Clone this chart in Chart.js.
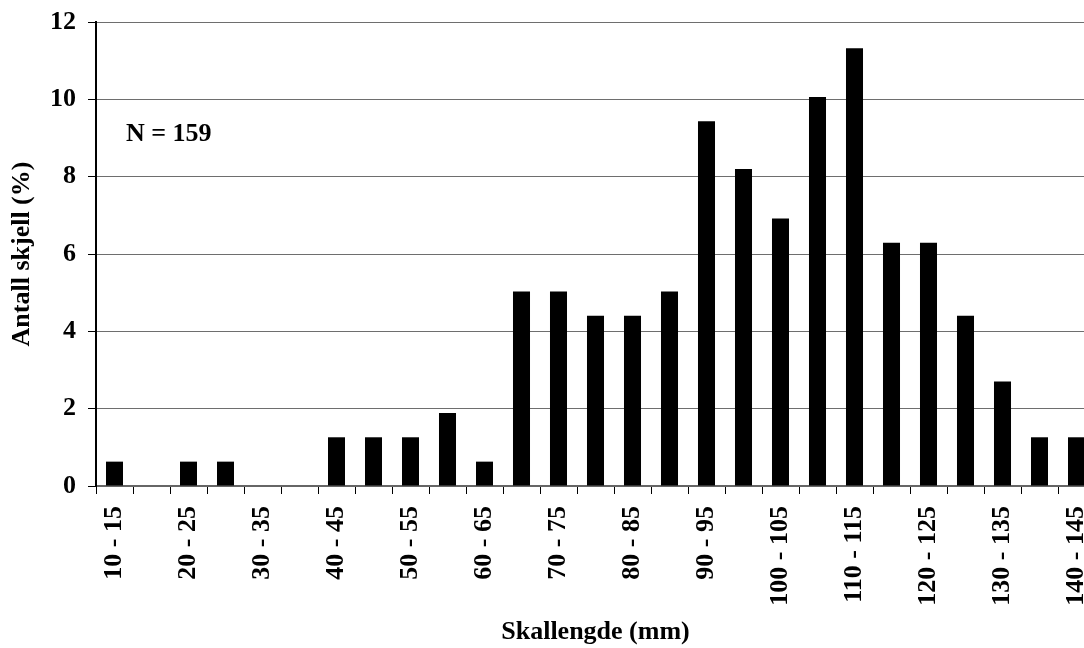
<!DOCTYPE html>
<html>
<head>
<meta charset="utf-8">
<script src="https://cdn.jsdelivr.net/npm/chart.js@4.4.1/dist/chart.umd.min.js"></script>
<style>
  html, body { margin: 0; padding: 0; background: #fff; overflow: hidden; }
  #wrap { width: 1100px; height: 648px; }
</style>
</head>
<body>
<div id="wrap"><canvas id="chart" width="1100" height="648"></canvas></div>
<script>
const categories = [
  "10 - 15", "15 - 20", "20 - 25", "25 - 30", "30 - 35", "35 - 40", "40 - 45",
  "45 - 50", "50 - 55", "55 - 60", "60 - 65", "65 - 70", "70 - 75", "75 - 80",
  "80 - 85", "85 - 90", "90 - 95", "95 - 100", "100 - 105", "105 - 110",
  "110 - 115", "115 - 120", "120 - 125", "125 - 130", "130 - 135",
  "135 - 140", "140 - 145"
];
const percentShells = [
  0.63, 0, 0.63, 0.63, 0, 0, 1.26,
  1.26, 1.26, 1.89, 0.63, 5.03, 5.03, 4.4,
  4.4, 5.03, 9.43, 8.2, 6.92, 10.06,
  11.32, 6.29, 6.29, 4.4, 2.7,
  1.26, 1.26
];
const yTicks = [0, 2, 4, 6, 8, 10, 12];
const sampleNote = "N = 159";

const serif = "'Liberation Serif', 'Times New Roman', serif";

// N = 159 text inside the plot
const notePlugin = {
  id: "note",
  afterDraw(chart) {
    const ctx = chart.ctx;
    const y = chart.scales.y;
    ctx.save();
    ctx.font = "bold 26px " + serif;
    ctx.fillStyle = "#000";
    ctx.textBaseline = "middle";
    ctx.fillText(sampleNote, chart.chartArea.left + 30, y.getPixelForValue(9.1));
    ctx.restore();
  },
};

new Chart(document.getElementById("chart").getContext("2d"), {
  type: "bar",
  data: {
    labels: categories,
    datasets: [
      {
        data: percentShells,
        backgroundColor: "#000",
        borderWidth: 0,
        categoryPercentage: 1,
        barPercentage: 0.46,
      },
    ],
  },
  options: {
    responsive: false,
    animation: false,
    devicePixelRatio: 1,
    layout: { padding: { top: 22, right: 5, left: 0, bottom: 0 } },
    plugins: {
      legend: { display: false },
      tooltip: { enabled: false },
    },
    scales: {
      x: {
        grid: {
          display: true,
          drawOnChartArea: false,
          drawTicks: true,
          tickLength: 8,
          tickColor: "#000",
          offset: true,
        },
        border: { color: "#666", width: 2 },
        ticks: {
          autoSkip: false,
          minRotation: 90,
          maxRotation: 90,
          padding: 12,
          color: "#000",
          font: { family: serif, size: 26, weight: "bold" },
          callback: (v, i) => (i % 2 === 0 ? categories[i] : ""),
        },
        title: {
          display: true,
          text: "Skallengde (mm)",
          color: "#000",
          font: { family: serif, size: 26, weight: "bold" },
          padding: { top: 0, bottom: 0 },
        },
        afterFit: (s) => {
          s.height = 162;
          s.paddingLeft = 0;
          s.paddingRight = 0;
        },
      },
      y: {
        min: 0,
        max: 12,
        afterBuildTicks: (s) => { s.ticks = yTicks.map((v) => ({ value: v })); },
        grid: {
          color: "#6e6e6e",
          lineWidth: 1,
          tickLength: 8,
          tickColor: "#000",
        },
        border: { color: "#000", width: 2 },
        ticks: {
          padding: 12,
          color: "#000",
          font: { family: serif, size: 26, weight: "bold" },
        },
        title: {
          display: true,
          text: "Antall skjell (%)",
          color: "#000",
          font: { family: serif, size: 26, weight: "bold" },
          padding: { top: 7, bottom: 0 },
        },
        afterFit: (s) => {
          s.width = 96;
          s.paddingTop = 0;
          s.paddingBottom = 0;
        },
      },
    },
  },
  plugins: [notePlugin],
});
</script>
</body>
</html>
